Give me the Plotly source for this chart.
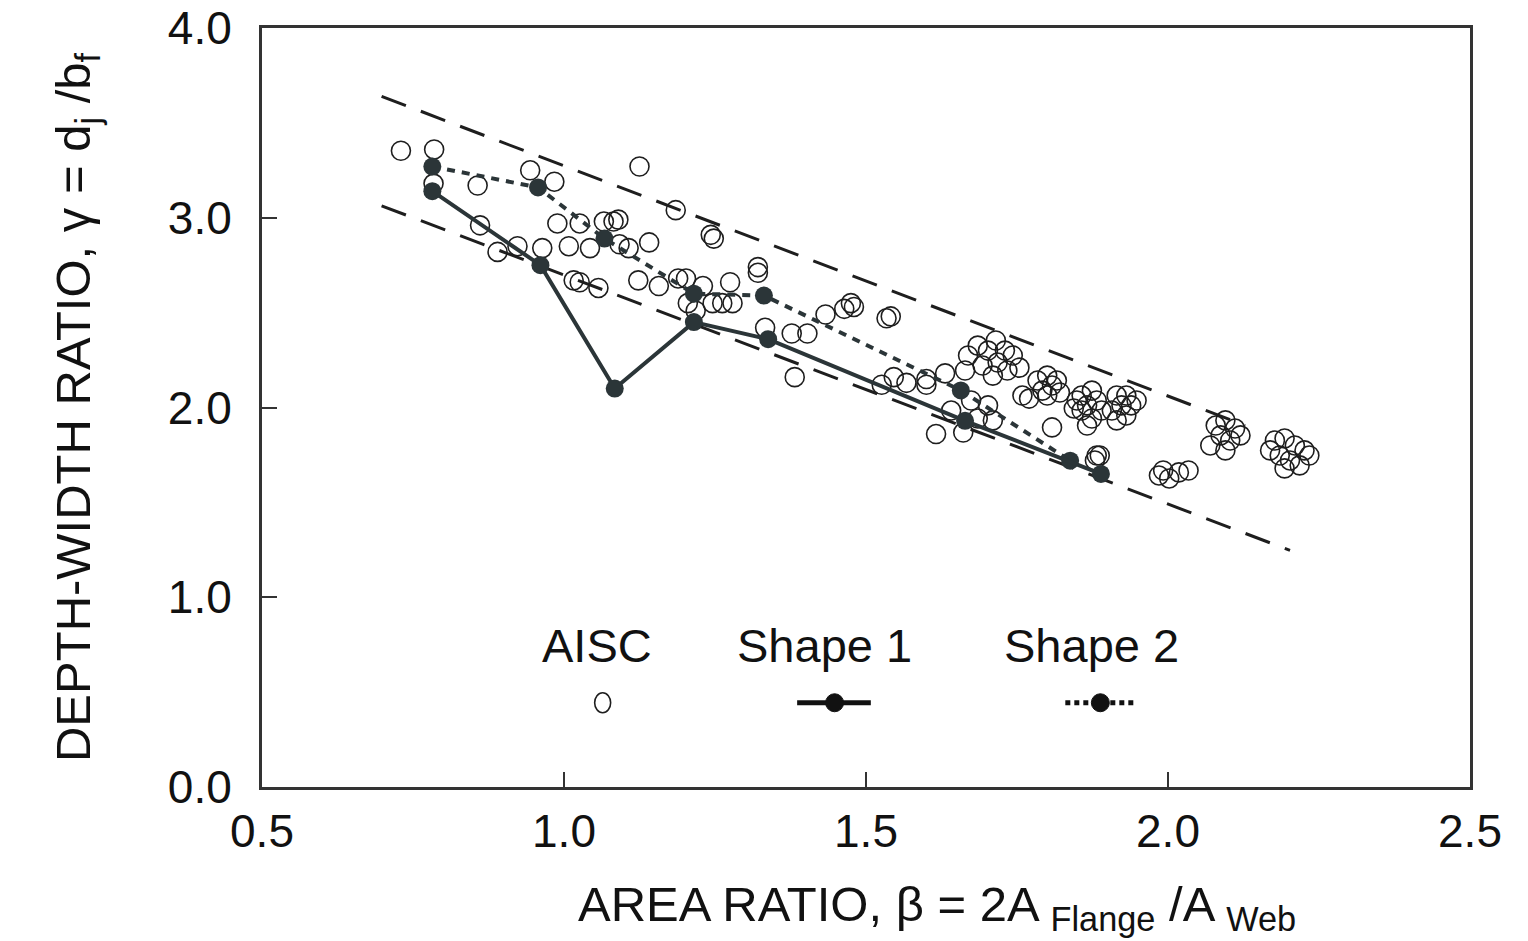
import plotly.graph_objects as go

# ---------------- data ----------------
aisc_x = [0.730, 0.785, 0.784, 0.857, 0.944, 0.984, 0.989, 0.861, 0.890, 0.923, 0.964, 1.008, 1.016,
          1.125, 1.026, 1.066, 1.082, 1.090, 1.185, 1.243, 1.248, 1.043, 1.092, 1.107, 1.141,
          1.026, 1.057, 1.123, 1.157, 1.189, 1.202, 1.230, 1.275, 1.321, 1.321,
          1.205, 1.246, 1.262, 1.279, 1.218,
          1.333, 1.377, 1.403, 1.433, 1.464, 1.475, 1.480, 1.534, 1.541,
          1.382, 1.526, 1.546, 1.567, 1.600, 1.600, 1.631, 1.616,
          1.669, 1.685, 1.702, 1.715, 1.693, 1.718, 1.734, 1.743, 1.754, 1.710, 1.664, 1.730,
          1.770, 1.784, 1.800, 1.808, 1.792, 1.816, 1.800, 1.821, 1.759, 1.808, 1.844,
          1.857, 1.874, 1.866, 1.882, 1.890, 1.857, 1.874, 1.849, 1.866,
          1.915, 1.931, 1.923, 1.939, 1.907, 1.931, 1.948, 1.915,
          1.879, 1.887, 1.882,
          1.661, 1.685, 1.702, 1.710, 1.674, 1.641,
          1.985, 2.002, 2.018, 2.034, 1.992,
          2.079, 2.095, 2.111, 2.087, 2.103, 2.070, 2.120, 2.095,
          2.177, 2.193, 2.210, 2.226, 2.185, 2.202, 2.218, 2.234, 2.169, 2.193]
aisc_y = [3.353, 3.360, 3.180, 3.170, 3.250, 3.190, 2.970, 2.960, 2.820, 2.850, 2.840, 2.850, 2.670,
          3.270, 2.970, 2.980, 2.980, 2.990, 3.040, 2.910, 2.890, 2.840, 2.860, 2.840, 2.870,
          2.660, 2.630, 2.670, 2.640, 2.680, 2.680, 2.640, 2.660, 2.740, 2.710,
          2.550, 2.550, 2.550, 2.550, 2.510,
          2.420, 2.390, 2.390, 2.490, 2.520, 2.550, 2.530, 2.470, 2.480,
          2.160, 2.120, 2.160, 2.130, 2.150, 2.120, 2.180, 1.860,
          2.274, 2.326, 2.300, 2.353, 2.221, 2.237, 2.195, 2.274, 2.210, 2.168, 2.195, 2.300,
          2.047, 2.142, 2.168, 2.116, 2.089, 2.142, 2.063, 2.079, 2.063, 1.895, 1.995,
          2.063, 2.089, 2.011, 2.037, 1.984, 1.984, 1.942, 2.037, 1.905,
          2.063, 2.063, 2.011, 2.011, 1.984, 1.958, 2.037, 1.932,
          1.721, 1.747, 1.747,
          1.868, 1.942, 2.011, 1.932, 2.037, 1.984,
          1.642, 1.626, 1.658, 1.668, 1.668,
          1.905, 1.932, 1.889, 1.853, 1.826, 1.800, 1.853, 1.774,
          1.826, 1.837, 1.800, 1.774, 1.747, 1.721, 1.695, 1.747, 1.774, 1.679]

shape1_x = [0.782, 0.961, 1.084, 1.215, 1.338, 1.664, 1.889]
shape1_y = [3.14, 2.75, 2.10, 2.45, 2.36, 1.93, 1.65]

shape2_x = [0.782, 0.957, 1.067, 1.215, 1.331, 1.657, 1.838]
shape2_y = [3.27, 3.16, 2.89, 2.60, 2.59, 2.09, 1.72]

upper_x = [0.698, 2.128]
upper_y = [3.64, 1.905]
lower_x = [0.698, 2.202]
lower_y = [3.063, 1.247]

x_ticks = [0.5, 1.0, 1.5, 2.0, 2.5]
x_tick_text = ["0.5", "1.0", "1.5", "2.0", "2.5"]
y_ticks = [0, 1, 2, 3, 4]
y_tick_text = ["0.0", "1.0", "2.0", "3.0", "4.0"]

legend_names = ["AISC", "Shape 1", "Shape 2"]

# ---------------- styles ----------------
INK = "#1e1e1e"
DARK = "#2b3538"
TXT = "#111111"
FONT = "Liberation Sans, Arial, sans-serif"

fig = go.Figure()

fig.add_trace(go.Scatter(x=upper_x, y=upper_y, mode="lines",
                         line=dict(color=INK, width=3, dash="26px,16px"), showlegend=False))
fig.add_trace(go.Scatter(x=lower_x, y=lower_y, mode="lines",
                         line=dict(color=INK, width=3, dash="26px,16px"), showlegend=False))

fig.add_trace(go.Scatter(x=aisc_x, y=aisc_y, mode="markers",
                         marker=dict(symbol="circle-open", size=19, color=INK,
                                     line=dict(width=1.6, color=INK)),
                         showlegend=False))

fig.add_trace(go.Scatter(x=shape2_x, y=shape2_y, mode="lines+markers",
                         line=dict(color=DARK, width=4, dash="8px,7px"),
                         marker=dict(size=18, color=DARK), showlegend=False))
fig.add_trace(go.Scatter(x=shape1_x, y=shape1_y, mode="lines+markers",
                         line=dict(color=DARK, width=4),
                         marker=dict(size=18, color=DARK), showlegend=False))

# ---------------- custom legend ----------------
leg_text_x = [0.277, 0.466, 0.687]
for name, lx in zip(legend_names, leg_text_x):
    fig.add_annotation(x=lx, y=0.187, xref="paper", yref="paper", text=name,
                       xanchor="center", yanchor="middle",
                       showarrow=False, font=dict(family=FONT, size=47, color=TXT))

sym_y = 0.111
# AISC open circle
fig.add_shape(type="circle", xref="paper", yref="paper", xsizemode="pixel", ysizemode="pixel",
              xanchor=0.282, yanchor=sym_y, x0=-8, x1=8, y0=-10, y1=10,
              line=dict(color=INK, width=1.6), fillcolor="white")
# Shape 1 key
fig.add_shape(type="line", xref="paper", yref="paper", x0=0.443, x1=0.504, y0=sym_y, y1=sym_y,
              line=dict(color=TXT, width=5))
fig.add_shape(type="circle", xref="paper", yref="paper", xsizemode="pixel", ysizemode="pixel",
              xanchor=0.474, yanchor=sym_y, x0=-9, x1=9, y0=-9, y1=9,
              line=dict(color=TXT, width=1), fillcolor=TXT)
# Shape 2 key
fig.add_shape(type="line", xref="paper", yref="paper", x0=0.665, x1=0.723, y0=sym_y, y1=sym_y,
              line=dict(color=TXT, width=5, dash="5px,4px"))
fig.add_shape(type="circle", xref="paper", yref="paper", xsizemode="pixel", ysizemode="pixel",
              xanchor=0.694, yanchor=sym_y, x0=-9, x1=9, y0=-9, y1=9,
              line=dict(color=TXT, width=1), fillcolor=TXT)

# x-axis title as an annotation (offset to the right like the reference)
fig.add_annotation(x=0.559, y=-0.159, xref="paper", yref="paper",
                   xanchor="center", yanchor="middle", showarrow=False,
                   text="AREA RATIO, β = 2A <sub>Flange</sub> /A <sub>Web</sub>",
                   font=dict(family=FONT, size=49, color=TXT))

axis_common = dict(showgrid=False, zeroline=False, showline=True, linecolor="#333333",
                   linewidth=3, mirror=True, ticks="inside", ticklen=15, tickwidth=2,
                   tickcolor="#333333", automargin=False, ticklabeloverflow="allow",
                   tickfont=dict(family=FONT, size=46, color=TXT))

fig.update_xaxes(range=[0.5, 2.5], tickvals=x_ticks, ticktext=x_tick_text,
                 ticklabelstandoff=2, **axis_common)
fig.update_yaxes(range=[0, 4], tickvals=y_ticks, ticktext=y_tick_text,
                 ticklabelstandoff=18,
                 title=dict(text="DEPTH-WIDTH RATIO, γ = d<sub>j</sub> /b<sub>f</sub>",
                            font=dict(family=FONT, size=49, color=TXT), standoff=62),
                 **axis_common)

fig.update_layout(width=1528, height=941, plot_bgcolor="white", paper_bgcolor="white",
                  margin=dict(l=254, r=66, t=20, b=162), showlegend=False)

fig.write_html("out.html")
